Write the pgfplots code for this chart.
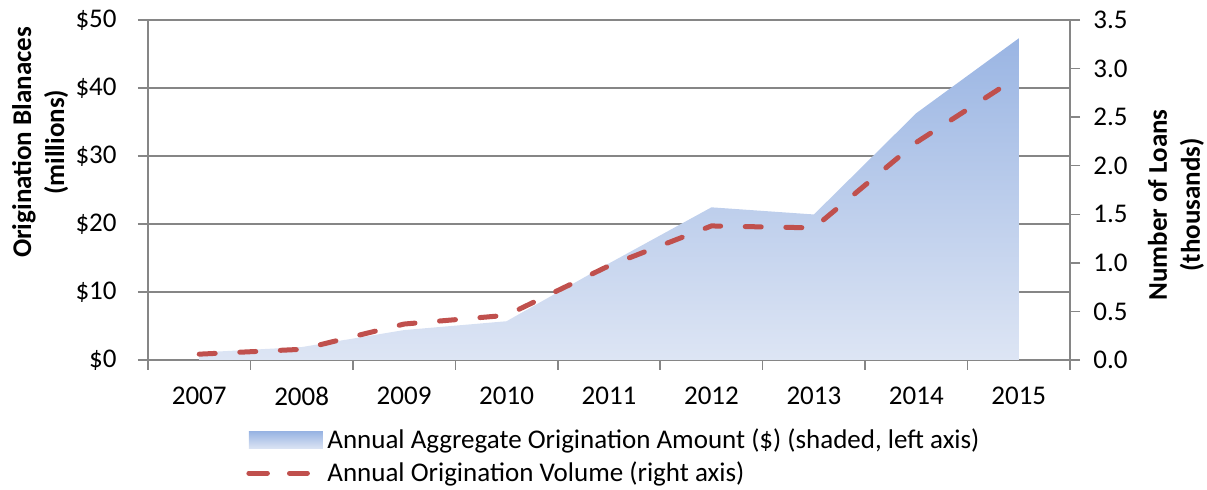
\documentclass[border=0pt]{standalone}
\usepackage{pgfplots}
\pgfplotsset{compat=1.18}
\usepackage{fontspec}
\setmainfont{Carlito}
\definecolor{axgray}{HTML}{868686}
\definecolor{areatop}{HTML}{9AB5E3}
\definecolor{areabot}{HTML}{DDE5F4}
\definecolor{linered}{HTML}{C0504D}
\newcommand{\tickfont}{\fontsize{13.5}{16}\selectfont}
\pgfplotsset{
  common/.style={
    scale only axis, width=461pt, height=170pt,
    xmin=-0.5, xmax=8.5,
    axis line style={axgray, line width=0.75pt, -},
    tick align=outside, major tick length=5pt,
    tick style={axgray, line width=0.75pt},
    /pgf/number format/assume math mode=true,
  }
}
\begin{document}
\begin{tikzpicture}
\begin{axis}[common,
  ymin=0, ymax=50,
  axis x line*=bottom, axis y line*=left,
  xtick={-0.5,0.5,1.5,2.5,3.5,4.5,5.5,6.5,7.5,8.5},
  x tick label as interval,
  xticklabels={2007,2008,2009,2010,2011,2012,2013,2014,2015},
  xticklabel style={font=\tickfont, inner sep=1pt, yshift=-7.5pt},
  ytick={0,10,20,30,40,50},
  yticklabels={\$0,\$10,\$20,\$30,\$40,\$50},
  yticklabel style={font=\tickfont, inner sep=1pt, xshift=-9.5pt},
  ymajorgrids, grid style={axgray, line width=0.75pt},
  ylabel={Origination Blanaces\\(millions)},
  ylabel style={font=\bfseries\fontsize{13.5}{16.5}\selectfont, align=center, inner sep=0pt,
    at={(axis description cs:-0.117,0.64)}, anchor=center},
]
\addplot[draw=none, top color=areatop, bottom color=areabot] coordinates {
  (0,1.1) (1,1.9) (2,4.4) (3,5.7) (4,14.2) (5,22.45) (6,21.4) (7,36.3) (8,47.3)
} \closedcycle;
\coordinate (o) at (rel axis cs:0,0);
\end{axis}
\begin{axis}[common,
  ymin=0, ymax=3.5,
  axis x line=none, axis y line*=right,
  ytick={0,0.5,1,1.5,2,2.5,3,3.5},
  yticklabel style={font=\tickfont, inner sep=1pt, xshift=5.5pt, /pgf/number format/.cd, fixed, fixed zerofill, precision=1},
  ylabel={Number of Loans\\(thousands)},
  ylabel style={font=\bfseries\fontsize{13.5}{16.5}\selectfont, align=center, inner sep=0pt,
    at={(axis description cs:1.115,0.456)}, anchor=center, rotate=0},
  legend style={at={(axis description cs:0.1063,-0.196)}, anchor=north west,
    draw=none, fill=none, inner sep=0pt, font=\fontsize{13.5}{16}\selectfont, row sep=3pt,
    nodes={inner sep=1pt}},
  legend cell align=left,
]
\addlegendimage{legend image code/.code={
  \shade[draw=none, top color=areatop, bottom color=areabot] (0pt,-4.25pt) rectangle (37pt,4.25pt);}}
\addlegendentry{Annual Aggregate Origination Amount (\$) (shaded, left axis)}
\addplot[linered, line width=2.5pt, line cap=round, dash pattern=on 8pt off 12.3pt,
  legend image code/.code={
    \draw[linered, line width=2.5pt, line cap=round, dash pattern=on 8pt off 12pt] (1.25pt,0pt) -- (29.25pt,0pt);
    \path (0pt,0pt) -- (37pt,0pt);}] coordinates {
  (0,0.06) (1,0.11) (2,0.37) (3,0.46) (4,0.97) (5,1.38) (6,1.36) (7,2.24) (8,2.92)
};
\addlegendentry{Annual Origination Volume (right axis)}
\end{axis}
\path (o) ++(-74pt,-65pt) rectangle ++(603.5pt,245pt);
\end{tikzpicture}
\end{document}
